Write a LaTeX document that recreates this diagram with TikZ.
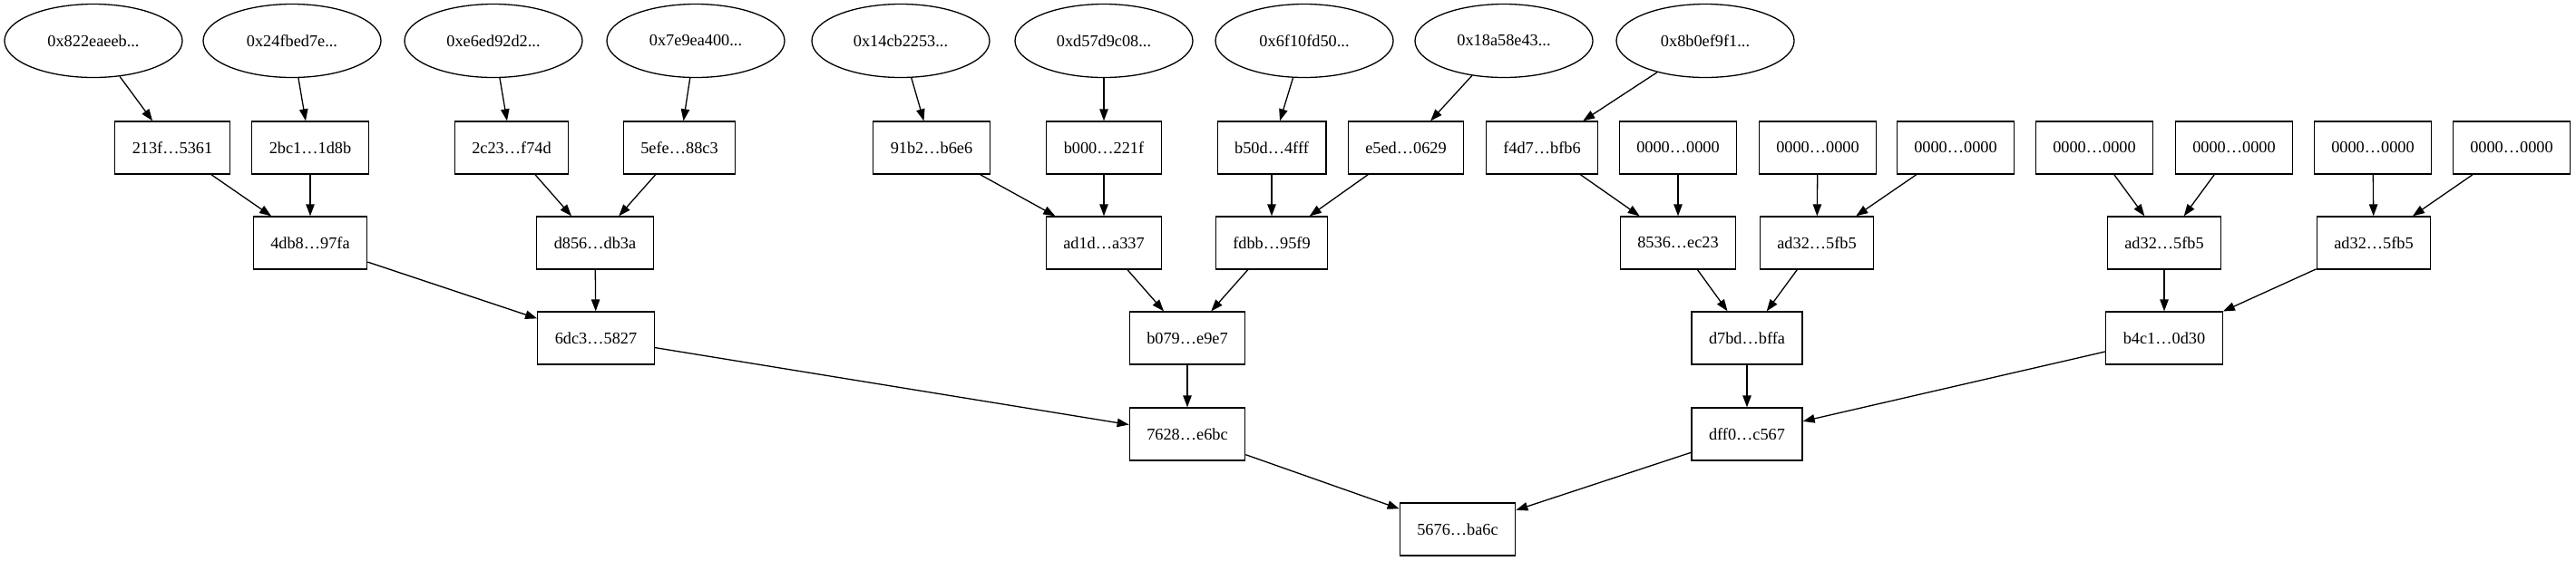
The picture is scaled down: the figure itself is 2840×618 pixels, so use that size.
\documentclass[tikz,border=0pt]{standalone}
\usepackage{fontspec}
\setmainfont{Liberation Serif}
\usetikzlibrary{shapes.geometric,arrows.meta}
\tikzset{
  every node/.style={font=\fontsize{9.15pt}{11pt}\selectfont},
  hashbox/.style={draw, line width=0.65pt, rectangle, minimum height=29pt, inner xsep=9.5pt, inner ysep=0pt},
  addr/.style={draw, line width=0.65pt, ellipse, minimum width=98pt, minimum height=40.5pt, inner sep=0pt},
  link/.style={line width=0.65pt, -{Triangle[length=6.5pt, width=4.7pt]}}
}
\begin{document}
\begin{tikzpicture}[x=0.5pt,y=-0.5pt]
\useasboundingbox (0,0) rectangle (2840,618);
% addresses
\node[addr] (e1) at (103,45) {0x822eaeeb...};
\node[addr] (e2) at (322,45) {0x24fbed7e...};
\node[addr] (e3) at (544,45) {0xe6ed92d2...};
\node[addr] (e4) at (767,45) {0x7e9ea400...};
\node[addr] (e5) at (993,45) {0x14cb2253...};
\node[addr] (e6) at (1217,45) {0xd57d9c08...};
\node[addr] (e7) at (1438,45) {0x6f10fd50...};
\node[addr] (e8) at (1658,45) {0x18a58e43...};
\node[addr] (e9) at (1880,45) {0x8b0ef9f1...};
% level 1
\node[hashbox] (a1) at (190,163) {213f…5361};
\node[hashbox] (a2) at (342,163) {2bc1…1d8b};
\node[hashbox] (a3) at (564,163) {2c23…f74d};
\node[hashbox] (a4) at (749,163) {5efe…88c3};
\node[hashbox] (a5) at (1027,163) {91b2…b6e6};
\node[hashbox] (a6) at (1217,163) {b000…221f};
\node[hashbox] (a7) at (1402,163) {b50d…4fff};
\node[hashbox] (a8) at (1550,163) {e5ed…0629};
\node[hashbox] (a9) at (1700,163) {f4d7…bfb6};
\node[hashbox] (z1) at (1850,163) {0000…0000};
\node[hashbox] (z2) at (2004,163) {0000…0000};
\node[hashbox] (z3) at (2156,163) {0000…0000};
\node[hashbox] (z4) at (2309,163) {0000…0000};
\node[hashbox] (z5) at (2463,163) {0000…0000};
\node[hashbox] (z6) at (2616,163) {0000…0000};
\node[hashbox] (z7) at (2769,163) {0000…0000};
% level 2
\node[hashbox] (b1) at (342,268) {4db8…97fa};
\node[hashbox] (b2) at (656,268) {d856…db3a};
\node[hashbox] (b3) at (1217,268) {ad1d…a337};
\node[hashbox] (b4) at (1402,268) {fdbb…95f9};
\node[hashbox] (b5) at (1850,268) {8536…ec23};
\node[hashbox] (b6) at (2003,268) {ad32…5fb5};
\node[hashbox] (b7) at (2386,268) {ad32…5fb5};
\node[hashbox] (b8) at (2617,268) {ad32…5fb5};
% level 3
\node[hashbox] (c1) at (657,373) {6dc3…5827};
\node[hashbox] (c2) at (1309,373) {b079…e9e7};
\node[hashbox] (c3) at (1926,373) {d7bd…bffa};
\node[hashbox] (c4) at (2386,373) {b4c1…0d30};
% level 4
\node[hashbox] (d1) at (1309,479) {7628…e6bc};
\node[hashbox] (d2) at (1926,479) {dff0…c567};
% root
\node[hashbox] (r) at (1607,584) {5676…ba6c};
% edges
\foreach \s/\t in {e1/a1,e2/a2,e3/a3,e4/a4,e5/a5,e6/a6,e7/a7,e8/a8,e9/a9,
  a1/b1,a2/b1,a3/b2,a4/b2,a5/b3,a6/b3,a7/b4,a8/b4,a9/b5,z1/b5,z2/b6,z3/b6,z4/b7,z5/b7,z6/b8,z7/b8,
  b1/c1,b2/c1,b3/c2,b4/c2,b5/c3,b6/c3,b7/c4,b8/c4,
  c1/d1,c2/d1,c3/d2,c4/d2,d1/r,d2/r}
  \draw[link] (\s) -- (\t);
\end{tikzpicture}
\end{document}
